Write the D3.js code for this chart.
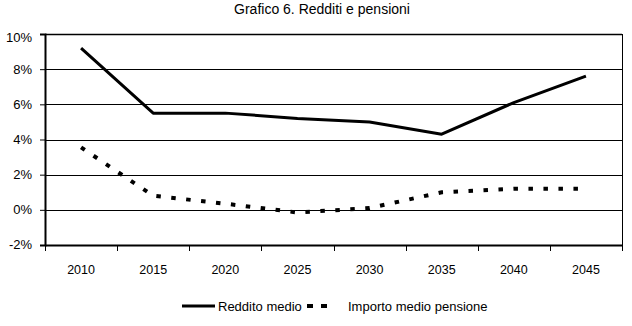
<!DOCTYPE html>
<html>
<head>
<meta charset="utf-8">
<script src="https://cdn.jsdelivr.net/npm/d3@7"></script>
<style>
  body { margin: 0; background: #fff; }
  svg text { font-family: "Liberation Sans", Arial, sans-serif; fill: #000; }
</style>
</head>
<body>
<div id="chart"></div>
<script>
// chart data
const years = ["2010", "2015", "2020", "2025", "2030", "2035", "2040", "2045"];
const redditoMedio = [9.2, 5.5, 5.5, 5.2, 5.0, 4.3, 6.1, 7.6];
const importoPensione = [3.55, 0.8, 0.35, -0.15, 0.1, 1.0, 1.2, 1.2];
const yTicks = [-2, 0, 2, 4, 6, 8, 10];

const W = 632, H = 326;
const margin = {top: 34, right: 10, bottom: 81, left: 45};
const width = W - margin.left - margin.right;
const height = H - margin.top - margin.bottom;

const svg = d3.select("#chart").append("svg")
    .attr("width", W)
    .attr("height", H);

// title
svg.append("text")
    .attr("x", 322)
    .attr("y", 13.5)
    .attr("text-anchor", "middle")
    .attr("font-size", 14)
    .text("Grafico 6. Redditi e pensioni");

const g = svg.append("g")
    .attr("transform", "translate(" + margin.left + "," + margin.top + ")");

const x = d3.scaleBand()
    .domain(years)
    .range([0, width]);

const y = d3.scaleLinear()
    .domain([-2, 10])
    .range([height, 0]);

// gridlines
g.selectAll(".grid")
    .data(yTicks)
    .enter()
    .append("line")
    .attr("x1", 0)
    .attr("x2", width)
    .attr("y1", d => Math.round(y(d)) + 0.5)
    .attr("y2", d => Math.round(y(d)) + 0.5)
    .attr("stroke", "#000")
    .attr("stroke-width", 1);

// top border a bit heavier
g.append("line")
    .attr("x1", 0).attr("x2", width)
    .attr("y1", 0.5).attr("y2", 0.5)
    .attr("stroke", "#000").attr("stroke-width", 1.5);

// right border
g.append("line")
    .attr("x1", width + 0.5).attr("x2", width + 0.5)
    .attr("y1", 0).attr("y2", height + 6)
    .attr("stroke", "#000");

// y axis
const yAxis = g.append("g")
    .call(d3.axisLeft(y).tickValues(yTicks).tickSize(5).tickPadding(8)
        .tickFormat(d => d + "%"));
yAxis.select(".domain").attr("stroke-width", 2);
yAxis.selectAll("text")
    .attr("font-size", 13)
    .attr("font-family", null)
    .attr("dy", d => d === 10 ? "0.6em" : "0.3em");

// x axis, ticks on band boundaries
const xAxis = g.append("g")
    .attr("transform", "translate(0," + height + ")");
xAxis.append("line")
    .attr("x1", 0).attr("x2", width)
    .attr("y1", 0.5).attr("y2", 0.5)
    .attr("stroke", "#000").attr("stroke-width", 2);
xAxis.selectAll(".xtick")
    .data(years)
    .enter()
    .append("line")
    .attr("x1", d => Math.round(x(d)) + 0.5)
    .attr("x2", d => Math.round(x(d)) + 0.5)
    .attr("y1", 0).attr("y2", 6)
    .attr("stroke", "#000");
xAxis.selectAll(".xlabel")
    .data(years)
    .enter()
    .append("text")
    .attr("x", d => x(d) + x.bandwidth() / 2)
    .attr("y", 29)
    .attr("text-anchor", "middle")
    .attr("font-size", 12.5)
    .text(d => d);

// lines
const line = d3.line()
    .x((d, i) => x(years[i]) + x.bandwidth() / 2)
    .y(d => y(d));

g.append("path")
    .datum(redditoMedio)
    .attr("fill", "none")
    .attr("stroke", "#000")
    .attr("stroke-width", 3)
    .attr("stroke-linejoin", "round")
    .attr("d", line);

g.append("path")
    .datum(importoPensione)
    .attr("fill", "none")
    .attr("stroke", "#000")
    .attr("stroke-width", 4)
    .attr("stroke-dasharray", "4.5,10.5")
    .attr("d", line);

// legend
const legend = svg.append("g")
    .attr("transform", "translate(0,306)");
legend.append("line")
    .attr("x1", 182).attr("x2", 215)
    .attr("y1", 0).attr("y2", 0)
    .attr("stroke", "#000").attr("stroke-width", 3);
legend.append("text")
    .attr("x", 218).attr("y", 5)
    .attr("font-size", 13)
    .text("Reddito medio");
legend.append("line")
    .attr("x1", 307).attr("x2", 327)
    .attr("y1", 0).attr("y2", 0)
    .attr("stroke", "#000").attr("stroke-width", 4)
    .attr("stroke-dasharray", "6,8");
legend.append("text")
    .attr("x", 348).attr("y", 5)
    .attr("font-size", 13)
    .text("Importo medio pensione");
</script>
</body>
</html>
